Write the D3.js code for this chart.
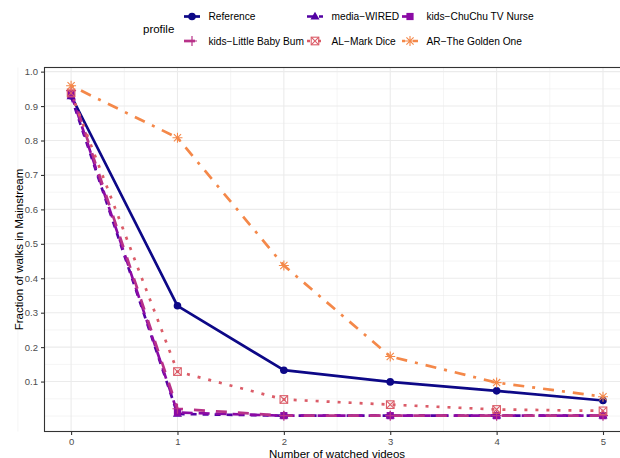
<!DOCTYPE html>
<html>
<head>
<meta charset="utf-8">
<script src="https://cdn.jsdelivr.net/npm/d3@7"></script>
<style>
  body { margin: 0; background: #fff; }
  text { font-family: "Liberation Sans", Arial, sans-serif; }
</style>
</head>
<body>
<svg id="chart" width="620" height="458"></svg>
<script>
// fraction of walks staying in mainstream, per profile

const videos = [0, 1, 2, 3, 4, 5];
const profiles = ["Reference", "media\u2212WIRED", "kids\u2212ChuChu TV Nurse",
                  "kids\u2212Little Baby Bum", "AL\u2212Mark Dice", "AR\u2212The Golden One"];
const reference  = [0.930, 0.320, 0.133, 0.099, 0.073, 0.045];
const wired      = [0.928, 0.006, 0.001, 0.001, 0.001, 0.001];
const chuchu     = [0.935, 0.010, 0.001, 0.001, 0.001, 0.001];
const babyBum    = [0.945, 0.021, 0.001, 0.001, 0.001, 0.001];
const markDice   = [0.938, 0.129, 0.048, 0.033, 0.019, 0.015];
const goldenOne  = [0.959, 0.808, 0.437, 0.173, 0.097, 0.056];
const yTicks = [0.1, 0.2, 0.3, 0.4, 0.5, 0.6, 0.7, 0.8, 0.9, 1.0];

const seriesValues = [reference, wired, chuchu, babyBum, markDice, goldenOne];
const colours = ["#0D0887", "#5302A3", "#8B0AA5", "#B83289", "#DB5C68", "#F48849"];
const dashes = ["none", "6,6", "11,6", "11,11", "3,8", "3,8,11,8"];
const shapes = ["circle", "triangle", "square", "plus", "boxx", "star"];

const svg = d3.select("#chart");
const pLeft = 44.5, pRight = 629.6, pTop = 67.5, pBottom = 431.5;

const x = d3.scaleLinear().domain([-0.25, 5.25]).range([pLeft, pRight]);
const y = d3.scaleLinear().domain([-0.045, 1.012]).range([pBottom, pTop]);

// grid
const grid = svg.append("g");
d3.range(-0.5, 5.6, 0.5).forEach(v => {
    grid.append("line").attr("x1", x(v)).attr("x2", x(v)).attr("y1", pTop).attr("y2", pBottom)
        .attr("stroke", "#ebebeb").attr("stroke-width", Number.isInteger(v) ? 1.1 : 0.55);
});
d3.range(0, 1.001, 0.05).forEach(v => {
    const major = Math.abs(v * 10 - Math.round(v * 10)) < 1e-6 && v > 0.05;
    grid.append("line").attr("x1", pLeft).attr("x2", pRight).attr("y1", y(v)).attr("y2", y(v))
        .attr("stroke", "#ebebeb").attr("stroke-width", major ? 1.1 : 0.55);
});

svg.append("clipPath").attr("id", "clip").append("rect")
    .attr("x", pLeft).attr("y", pTop).attr("width", pRight - pLeft).attr("height", pBottom - pTop);

const plot = svg.append("g").attr("clip-path", "url(#clip)");

const line = d3.line().x((d, i) => x(videos[i])).y(d => y(d));

seriesValues.forEach((vals, k) => {
    plot.append("path").attr("d", line(vals))
        .attr("fill", "none").attr("stroke", colours[k]).attr("stroke-width", 2.7)
        .attr("stroke-dasharray", dashes[k]).attr("stroke-linejoin", "round");
});

function drawShape(g, shape, cx, cy, col) {
    if (shape === "circle") {
        g.append("circle").attr("cx", cx).attr("cy", cy).attr("r", 3.8).attr("fill", col);
    } else if (shape === "triangle") {
        const r = 4.8;
        g.append("path").attr("d", `M${cx},${cy - r}L${cx + r * 0.95},${cy + r * 0.6}L${cx - r * 0.95},${cy + r * 0.6}Z`).attr("fill", col);
    } else if (shape === "square") {
        g.append("rect").attr("x", cx - 3.6).attr("y", cy - 3.6).attr("width", 7.2).attr("height", 7.2).attr("fill", col);
    } else if (shape === "plus") {
        g.append("path").attr("d", `M${cx - 5},${cy}H${cx + 5}M${cx},${cy - 5}V${cy + 5}`)
            .attr("stroke", col).attr("stroke-width", 1.2);
    } else if (shape === "boxx") {
        g.append("rect").attr("x", cx - 3.8).attr("y", cy - 3.8).attr("width", 7.6).attr("height", 7.6)
            .attr("fill", "none").attr("stroke", col).attr("stroke-width", 1.1);
        g.append("path").attr("d", `M${cx - 3.8},${cy - 3.8}L${cx + 3.8},${cy + 3.8}M${cx + 3.8},${cy - 3.8}L${cx - 3.8},${cy + 3.8}`)
            .attr("stroke", col).attr("stroke-width", 1.1);
    } else if (shape === "star") {
        const r = 5, d = 3.6;
        g.append("path").attr("d", `M${cx - r},${cy}H${cx + r}M${cx},${cy - r}V${cy + r}M${cx - d},${cy - d}L${cx + d},${cy + d}M${cx + d},${cy - d}L${cx - d},${cy + d}`)
            .attr("stroke", col).attr("stroke-width", 1.1);
    }
}

seriesValues.forEach((vals, k) => {
    vals.forEach((v, i) => drawShape(plot, shapes[k], x(videos[i]), y(v), colours[k]));
});

// panel border
svg.append("rect").attr("x", pLeft).attr("y", pTop).attr("width", pRight - pLeft).attr("height", pBottom - pTop)
    .attr("fill", "none").attr("stroke", "#333333").attr("stroke-width", 1.1);

// axes
const xAxis = svg.append("g").attr("transform", `translate(0,${pBottom})`)
    .call(d3.axisBottom(x).tickValues(videos).tickSize(3.5).tickPadding(3).tickFormat(d3.format("d")));
const yAxis = svg.append("g").attr("transform", `translate(${pLeft},0)`)
    .call(d3.axisLeft(y).tickValues(yTicks).tickSize(3.5).tickPadding(3).tickFormat(d3.format(".1f")));
[xAxis, yAxis].forEach(a => {
    a.select(".domain").remove();
    a.selectAll(".tick line").attr("stroke", "#333333").attr("stroke-width", 1.1);
    a.selectAll(".tick text").attr("fill", "#4d4d4d").style("font-size", "9.5px")
        .style("font-family", "'Liberation Sans', Arial, sans-serif");
});

svg.append("text").attr("x", (pLeft + pRight) / 2).attr("y", 457.5).attr("text-anchor", "middle")
    .style("font-size", "11.5px").text("Number of watched videos");
svg.append("text").attr("transform", `translate(23,${(pTop + pBottom) / 2}) rotate(-90)`)
    .attr("text-anchor", "middle").style("font-size", "11.5px").text("Fraction of walks in Mainstream");

// legend
const legend = svg.append("g");
legend.append("text").attr("x", 143).attr("y", 33).style("font-size", "11.5px").text("profile");
const colX = [192, 315, 410];
const rowY = [16.5, 41];
profiles.forEach((p, k) => {
    const cx = colX[k % 3], cy = rowY[Math.floor(k / 3)];
    legend.append("line").attr("x1", cx - 8).attr("x2", cx + 8).attr("y1", cy).attr("y2", cy)
        .attr("stroke", colours[k]).attr("stroke-width", 2.7).attr("stroke-dasharray", dashes[k]);
    drawShape(legend, shapes[k], cx, cy, colours[k]);
    legend.append("text").attr("x", cx + 16.5).attr("y", cy + 3.6).style("font-size", "10.2px").text(p);
});
</script>
</body>
</html>
